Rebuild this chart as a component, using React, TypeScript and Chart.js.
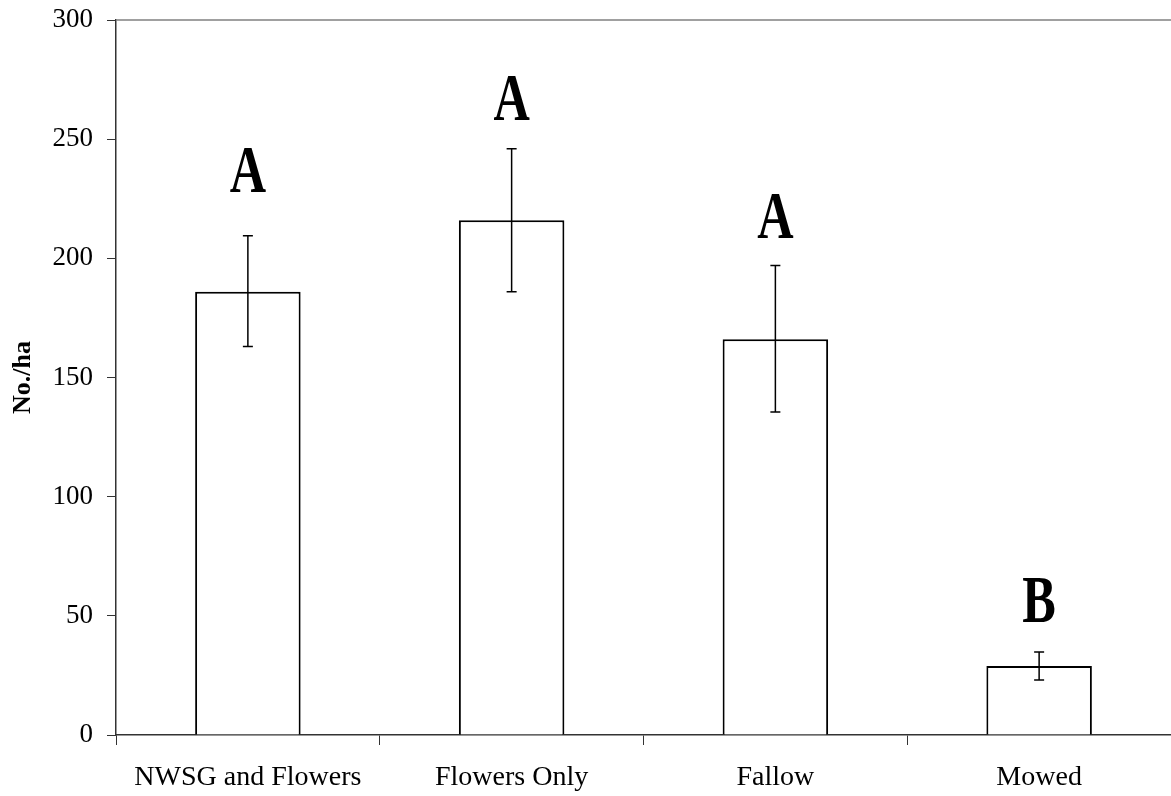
import React, { useEffect, useRef } from "react";
import { Chart, registerables } from "chart.js";

Chart.register(...registerables);

const categories = ["NWSG and Flowers", "Flowers Only", "Fallow", "Mowed"];
const means = [186, 216, 166, 29];
const errUpper = [23.5, 30, 31, 5.8];
const errLower = [23, 30, 30.5, 5.9];
const letters = ["A", "A", "A", "B"];
const letterPos = [228, 258, 208.5, 47.5];
const yTicks = [0, 50, 100, 150, 200, 250, 300];

const serif = "'Liberation Serif', 'Times New Roman', serif";

const extrasPlugin = {
  id: "extras",
  afterDatasetsDraw(chart: any) {
    const ctx = chart.ctx;
    const y = chart.scales.y;
    const meta = chart.getDatasetMeta(0);
    const area = chart.chartArea;
    ctx.save();
    // top border line
    ctx.strokeStyle = "#808080";
    ctx.lineWidth = 1.5;
    ctx.beginPath();
    ctx.moveTo(area.left, area.top);
    ctx.lineTo(chart.width, area.top);
    ctx.stroke();
    // error bars
    ctx.strokeStyle = "#000";
    ctx.lineWidth = 1.5;
    meta.data.forEach((bar: any, i: number) => {
      const x = bar.x;
      const yt = y.getPixelForValue(means[i] + errUpper[i]);
      const yb = y.getPixelForValue(means[i] - errLower[i]);
      ctx.beginPath();
      ctx.moveTo(x, yt);
      ctx.lineTo(x, yb);
      ctx.moveTo(x - 5, yt);
      ctx.lineTo(x + 5, yt);
      ctx.moveTo(x - 5, yb);
      ctx.lineTo(x + 5, yb);
      ctx.stroke();
    });
    // letters (condensed bold serif)
    ctx.fillStyle = "#000";
    ctx.font = `bold 68px ${serif}`;
    ctx.textAlign = "center";
    ctx.textBaseline = "alphabetic";
    meta.data.forEach((bar: any, i: number) => {
      ctx.save();
      ctx.translate(bar.x, y.getPixelForValue(letterPos[i]));
      ctx.scale(0.74, 1);
      ctx.fillText(letters[i], 0, 0);
      ctx.restore();
    });
    ctx.restore();
  },
};

export default function App() {
  const ref = useRef<HTMLCanvasElement>(null);
  useEffect(() => {
    document.body.style.margin = "0";
    const chart = new Chart(ref.current!, {
      type: "bar",
      data: {
        labels: categories,
        datasets: [
          {
            data: means,
            backgroundColor: "#ffffff",
            borderColor: "#000000",
            borderWidth: 2,
            categoryPercentage: 1,
            barPercentage: 0.4,
          },
        ],
      },
      options: {
        animation: false,
        responsive: true,
        maintainAspectRatio: false,
        layout: { padding: { top: 20, right: 0, left: 0, bottom: 0 } },
        plugins: { legend: { display: false }, tooltip: { enabled: false } },
        scales: {
          x: {
            offset: true,
            grid: {
              offset: true,
              drawOnChartArea: false,
              drawTicks: true,
              tickLength: 10,
              color: "#333",
            },
            border: { color: "#333", width: 1.5 },
            ticks: {
              color: "#000",
              font: { family: serif, size: 28 },
              padding: 16,
              maxRotation: 0,
            },
            afterFit: (s: any) => {
              s.height = 61;
              s.paddingLeft = 0;
              s.paddingRight = 0;
            },
          },
          y: {
            min: 0,
            max: 300,
            afterBuildTicks: (s: any) => {
              s.ticks = yTicks.map((v) => ({ value: v }));
            },
            grid: {
              drawOnChartArea: false,
              tickLength: 9,
              color: "#333",
            },
            border: { color: "#333", width: 1.5 },
            ticks: {
              color: "#000",
              font: { family: serif, size: 27 },
              padding: 14,
            },
            title: {
              display: true,
              text: "No./ha",
              color: "#000",
              font: { family: serif, size: 26, weight: "bold" },
              padding: { top: 8, bottom: 0 },
            },
            afterFit: (s: any) => {
              s.width = 116;
              s.paddingTop = 0;
              s.paddingBottom = 0;
            },
          },
        },
      },
      plugins: [extrasPlugin],
    });
    return () => chart.destroy();
  }, []);
  return (
    <div style={{ width: 1171, height: 796, position: "relative" }}>
      <canvas ref={ref} />
    </div>
  );
}
